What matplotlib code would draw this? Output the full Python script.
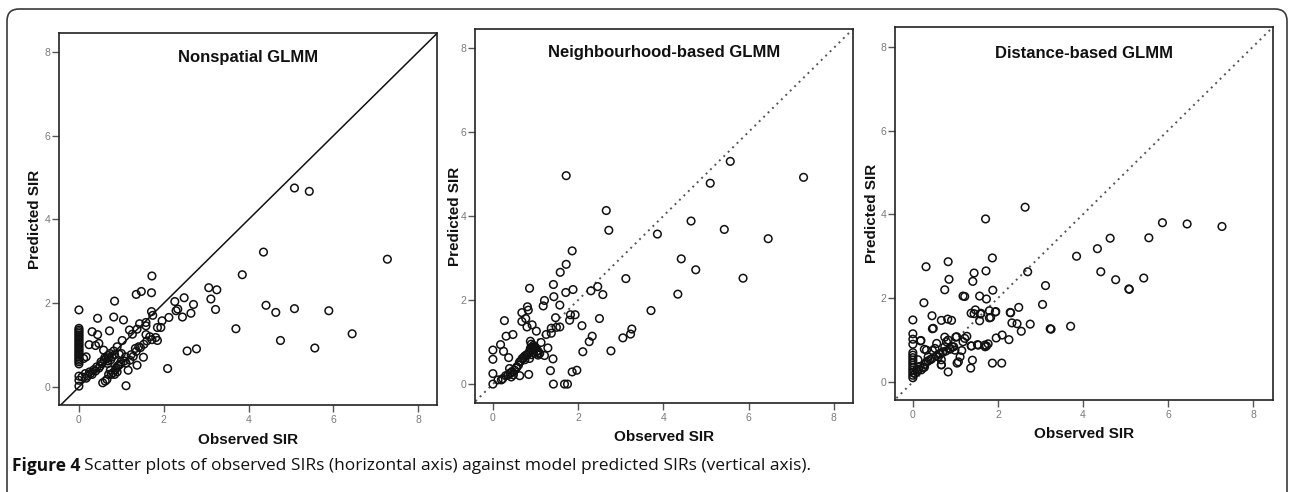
import matplotlib
matplotlib.use("Agg")
import matplotlib.pyplot as plt
from matplotlib.patches import FancyBboxPatch
from matplotlib.transforms import IdentityTransform

plt.rcParams['font.family'] = ['Liberation Sans', 'DejaVu Sans']

# ---------------- data ----------------
titles = ["Nonspatial GLMM", "Neighbourhood-based GLMM", "Distance-based GLMM"]
xlabel = "Observed SIR"
ylabel = "Predicted SIR"
ticks = [0, 2, 4, 6, 8]

obs1 = [0, 0, 0, 0, 0, 0, 0, 0, 0, 0, 0, 0, 0, 0, 0, 0, 0, 0, 0, 0, 0, 0, 0, 0, 0, 0,
        5.08, 5.43, 4.35, 7.27, 3.85, 1.72, 3.06, 3.25, 1.35, 1.47, 1.71, 2.48, 3.11, 2.26,
        2.70, 0.84, 4.41, 5.08, 5.89, 4.64, 3.22, 2.29, 2.33, 2.64, 2.44, 1.71, 1.74, 0.82,
        1.05, 0.44, 2.12, 1.96, 1.58, 1.43, 1.58, 1.85, 1.93, 0.72, 0.31, 3.70, 6.44, 1.19,
        1.37, 0.44, 1.26, 1.58, 0.24, 0.39, 0.47, 1.02, 1.72, 1.81, 1.85, 4.75, 5.56, 2.55,
        2.77, 2.09, 1.11, 1.37, 1.52, 1.33, 1.41, 0.90, 0.82, 0.58, 0.73, 0.68, 0.61, 0.17,
        0.11, 0.68, 0.54, 0.42, 0.35, 0.25, 0.15, 0.07, 0.17, 0.31, 0.39, 0.56, 0.66, 0.74,
        0.80, 0.86, 0.94, 0.99, 1.07, 1.11, 1.16, 1.23, 0.75, 0.78, 0.84, 0.68,
        0.52, 0.60, 0.64, 0.70, 0.88, 0.92, 0.98, 1.20, 1.28, 1.35, 1.45, 1.53, 1.60, 1.67,
        1.10, 1.00, 0.95, 0.20, 0.27, 0.47, 0.50, 0.62, 0.70, 0.76, 0.84, 0.90]
pred1 = [1.84, 1.40, 1.36, 1.32, 1.28, 1.24, 1.20, 1.16, 1.12, 1.08, 1.04, 1.00, 0.96, 0.92,
         0.88, 0.84, 0.80, 0.76, 0.72, 0.68, 0.64, 0.60, 0.55, 0.26, 0.16, 0.02,
         4.75, 4.67, 3.22, 3.05, 2.68, 2.65, 2.37, 2.32, 2.21, 2.28, 2.25, 2.13, 2.10, 2.04,
         1.97, 2.05, 1.95, 1.87, 1.82, 1.78, 1.85, 1.82, 1.86, 1.76, 1.67, 1.80, 1.71, 1.67,
         1.60, 1.64, 1.66, 1.58, 1.54, 1.51, 1.46, 1.42, 1.42, 1.34, 1.32, 1.39, 1.27, 1.36,
         1.38, 1.25, 1.26, 1.25, 1.01, 0.99, 1.04, 1.11, 1.13, 1.18, 1.11, 1.11, 0.93, 0.86,
         0.91, 0.44, 0.03, 0.52, 0.71, 0.92, 0.96, 0.96, 0.86, 0.88, 0.80, 0.75, 0.70, 0.72,
         0.68, 0.56, 0.56, 0.48, 0.41, 0.36, 0.32, 0.24, 0.21, 0.30, 0.38, 0.10, 0.18, 0.40,
         0.34, 0.41, 0.52, 0.60, 0.62, 0.57, 0.40, 0.77, 0.65, 0.72, 0.77, 0.62,
         0.60, 0.64, 0.68, 0.70, 0.46, 0.50, 0.55, 0.64, 0.73, 0.85, 0.94, 1.02, 1.10, 1.20,
         0.72, 0.80, 0.78, 0.26, 0.32, 0.45, 0.50, 0.14, 0.30, 0.30, 0.30, 0.36]

obs2 = [1.72, 5.57, 7.29, 5.10, 2.66, 2.72, 4.65, 5.43, 3.86, 6.46, 1.86, 4.42, 1.72, 4.76,
        1.58, 3.12, 5.87, 1.42, 2.46, 2.30, 0.86, 1.88, 1.71, 4.34, 2.58, 1.43, 1.21, 1.57,
        1.18, 0.81, 0.83, 0.68, 1.93, 1.82, 3.71, 0.77, 0.27, 0.68, 1.47, 2.50, 1.80, 0.92,
        0.80, 2.09, 1.57, 1.49, 1.37, 1.02, 1.37, 1.25, 0.47, 0.31, 3.26, 3.23, 2.33, 3.05,
        2.26, 0.88, 1.13, 0.18, 1.29, 0, 0.25, 2.11, 2.77, 0, 0.37, 1.41, 1.21, 1.06, 0.86,
        0, 0, 1.35, 0.84, 0.63, 1.86, 1.97, 1.42, 1.68, 1.75,
        0.12, 0.23, 0.35, 0.43, 0.51, 0.56, 0.63, 0.69, 0.74, 0.78, 0.84, 0.90, 0.94, 0.98,
        0.96, 1.03, 1.06, 1.10, 0.39, 0.43, 0.20, 0.30, 0.45, 0.55, 0.60, 0.66, 0.72, 0.80,
        0.86, 0.88, 0.92, 1.00, 0.95, 0.75, 0.90, 0.48, 0.40, 0.95, 1.05, 0.90]
pred2 = [4.96, 5.30, 4.92, 4.78, 4.13, 3.66, 3.88, 3.68, 3.57, 3.46, 3.17, 2.98, 2.85, 2.72,
         2.66, 2.51, 2.52, 2.37, 2.32, 2.22, 2.28, 2.25, 2.18, 2.14, 2.13, 2.08, 1.99, 1.88,
         1.86, 1.84, 1.76, 1.70, 1.65, 1.65, 1.75, 1.56, 1.51, 1.49, 1.58, 1.56, 1.52, 1.41,
         1.36, 1.39, 1.36, 1.35, 1.33, 1.26, 1.21, 1.18, 1.18, 1.14, 1.31, 1.19, 1.14, 1.10,
         1.01, 1.02, 0.99, 0.94, 0.86, 0.81, 0.78, 0.77, 0.79, 0.59, 0.63, 0.60, 0.68, 0.73,
         0.61, 0.25, 0.00, 0.32, 0.23, 0.20, 0.29, 0.33, 0.00, 0.00, 0.00,
         0.10, 0.13, 0.21, 0.27, 0.33, 0.41, 0.53, 0.61, 0.66, 0.69, 0.73, 0.81, 0.85, 0.89,
         0.81, 0.77, 0.69, 0.73, 0.37, 0.17, 0.10, 0.20, 0.30, 0.38, 0.45, 0.55, 0.62, 0.70,
         0.78, 0.85, 0.88, 0.85, 0.75, 0.58, 0.70, 0.22, 0.25, 0.92, 0.80, 0.95]

obs3 = [2.64, 1.71, 5.87, 6.45, 7.27, 4.64, 5.55, 4.34, 3.85, 1.87, 0.83, 0.31, 1.72, 1.44,
        2.70, 4.42, 4.77, 5.43, 0.85, 1.41, 3.12, 5.08, 5.09, 0.75, 1.88, 1.18, 1.22, 1.57,
        1.73, 0.26, 3.05, 2.49, 1.47, 1.80, 1.94, 2.29, 1.37, 1.44, 0.45, 1.59, 1.80, 0,
        0.67, 0.82, 0.91, 1.57, 2.33, 2.45, 2.76, 3.71, 3.23, 3.25, 2.55, 0.46, 0, 2.10,
        1.96, 2.26, 1.01, 1.27, 0.18, 0, 1.37, 1.52, 1.73, 1.70, 1.87, 2.09, 1.40, 1.36,
        0.83, 1.04, 0.67,
        0, 0, 0, 0, 0, 0, 0, 0, 0, 0, 0, 0,
        0.12, 0.16, 0.09, 0.20, 0.27, 0.32, 0.40, 0.36, 0.32, 0.52, 0.56, 0.60, 0.64, 0.71,
        0.67, 0.75, 0.79, 0.83, 0.75, 0.87, 0.93, 0.99, 1.03, 1.11, 1.15, 1.18, 1.22, 1.07,
        0.67, 1.38, 1.54, 1.69, 1.77, 0.46, 0.27, 0.19, 0.48, 1.60, 1.83, 1.95, 2.30, 0.05,
        0.10, 0.14, 0.24, 0.28, 0.36, 0.44, 0.55, 0.62, 0.70, 0.78, 0.88, 0.96]
pred3 = [4.17, 3.89, 3.80, 3.77, 3.71, 3.43, 3.44, 3.18, 3.00, 2.96, 2.87, 2.75, 2.65, 2.60,
         2.63, 2.63, 2.44, 2.48, 2.45, 2.40, 2.30, 2.22, 2.21, 2.20, 2.19, 2.05, 2.04, 2.05,
         1.98, 1.89, 1.85, 1.78, 1.72, 1.70, 1.67, 1.66, 1.64, 1.63, 1.58, 1.62, 1.53, 1.48,
         1.47, 1.50, 1.47, 1.46, 1.41, 1.39, 1.38, 1.33, 1.27, 1.26, 1.21, 1.27, 1.15, 1.12,
         1.05, 1.01, 1.07, 1.09, 0.98, 1.02, 0.86, 0.89, 0.86, 0.84, 0.45, 0.45, 0.52, 0.33,
         0.24, 0.45, 0.41,
         0.10, 0.16, 0.22, 0.28, 0.34, 0.40, 0.46, 0.52, 0.58, 0.64, 0.70, 0.90,
         0.53, 0.37, 0.29, 0.29, 0.35, 0.48, 0.53, 0.60, 0.76, 0.80, 0.92, 0.60, 0.68, 0.72,
         0.53, 0.84, 0.96, 1.00, 1.07, 0.78, 0.84, 0.76, 1.08, 0.60, 0.75, 0.96, 1.04, 0.48,
         0.41, 0.86, 0.88, 0.88, 0.91, 0.75, 0.78, 0.99, 1.28, 1.64, 1.54, 1.68, 1.65, 0.20,
         0.25, 0.30, 0.35, 0.42, 0.50, 0.55, 0.62, 0.66, 0.70, 0.74, 0.80, 0.84]

panels = [(obs1, pred1), (obs2, pred2), (obs3, pred3)]

# ---------------- layout ----------------
W, H = 1290, 492
fig = plt.figure(figsize=(W / 100, H / 100), dpi=100)

# rounded outer frame (pixel coordinates)
frame = FancyBboxPatch((7, -14), 1280, 492 - 9 + 14,
                       boxstyle="round,pad=0,rounding_size=12",
                       transform=IdentityTransform(), fill=False,
                       edgecolor='#3a3a3a', linewidth=1.2, zorder=0)
fig.patches.append(frame)

boxes = [(59, 33, 437, 405), (475, 29, 853, 403), (895, 27, 1273, 400)]
xlims = [(-0.47, 8.44), (-0.42, 8.45), (-0.42, 8.47)]
ylims = [(-0.43, 8.45), (-0.45, 8.45), (-0.43, 8.47)]
ylab_x = [35, 455, 872]
xlab_y = [440, 437, 434]
title_y = [0.935, 0.936, 0.930]

for i, ((ox, py), (l, t, r, b)) in enumerate(zip(panels, boxes)):
    ax = fig.add_axes([l / W, 1 - b / H, (r - l) / W, (b - t) / H])
    ax.set_xlim(*xlims[i])
    ax.set_ylim(*ylims[i])
    lo = min(xlims[i][0], ylims[i][0]) - 1
    hi = max(xlims[i][1], ylims[i][1]) + 1
    if i == 0:
        ax.plot([lo, hi], [lo, hi], color='#111111', lw=1.1, zorder=1)
    else:
        ax.plot([lo, hi], [lo, hi], color='#555555', lw=1.4,
                linestyle=(0, (1, 2.2)), zorder=1)
    ax.scatter(ox, py, s=30, facecolors='none', edgecolors='#111111',
               linewidths=1.1, zorder=2)
    ax.set_xticks(ticks)
    ax.set_yticks(ticks)
    ax.tick_params(direction='out', length=5, width=1, color='#555555',
                   labelcolor='#7a7a7a', labelsize=7.5)
    ax.tick_params(axis='y', pad=1)
    ax.tick_params(axis='x', pad=2)
    for s in ax.spines.values():
        s.set_color('#222222')
        s.set_linewidth(1.2)
    ax.text(0.5, title_y[i], titles[i], transform=ax.transAxes, ha='center',
            va='center', fontsize=12, fontweight='bold', color='#111111')
    fig.text(ylab_x[i] / W, 1 - (t + b) / 2 / H, ylabel, rotation=90,
             ha='center', va='center', fontsize=11, fontweight='bold',
             color='#111111')
    fig.text((l + r) / 2 / W, 1 - xlab_y[i] / H, xlabel, ha='center',
             va='center', fontsize=11, fontweight='bold', color='#111111')

# caption
cap_font = ['Open Sans', 'DejaVu Sans']
t1 = fig.text(12 / W, 1 - 466 / H, "Figure 4", ha='left', va='center',
              fontsize=12.5, fontweight='bold', family=cap_font, color='#111111')
fig.canvas.draw()
bb = t1.get_window_extent(renderer=fig.canvas.get_renderer())
fig.text((bb.x1 + 4) / W, 1 - 466 / H,
         "Scatter plots of observed SIRs (horizontal axis) against model predicted SIRs (vertical axis).",
         ha='left', va='center', fontsize=12.5, family=cap_font, color='#111111')

fig.savefig("out.png", dpi=100)
